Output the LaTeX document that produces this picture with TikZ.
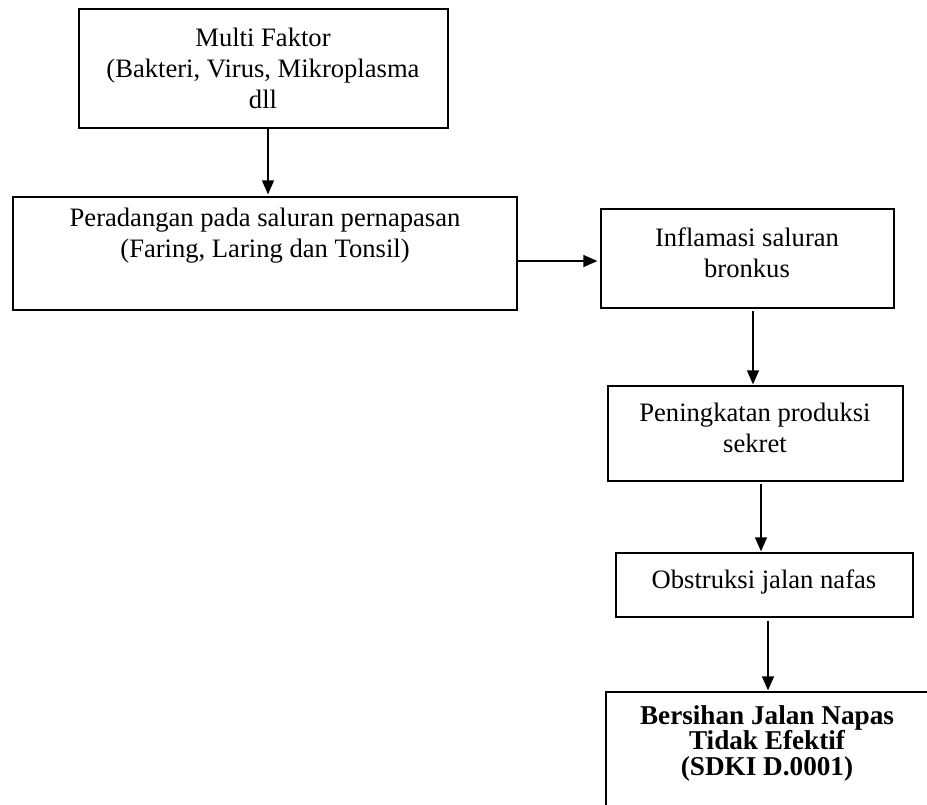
\documentclass[tikz,border=0pt]{standalone}
\usepackage{fontspec}
\setmainfont{Liberation Serif}
\usetikzlibrary{arrows.meta}
\begin{document}
\begin{tikzpicture}[x=1pt,y=-1pt,
  boxnode/.style={draw=black,line width=1.3pt,inner sep=0pt,rectangle},
  txt/.style={align=center,inner sep=0pt,font=\fontsize{26.6}{31}\selectfont},
  boldtxt/.style={align=center,inner sep=0pt,font=\fontsize{27.2}{25.5}\selectfont\bfseries},
  arr/.style={line width=1.3pt,-{Triangle[length=14pt,width=12pt]}}]
\clip (0,0) rectangle (927,804);
\fill[white] (0,0) rectangle (927,804);
% boxes
\node[boxnode,minimum width=369pt,minimum height=119pt] (b1) at (263.5,68.5) {};
\node[boxnode,minimum width=504pt,minimum height=113pt] (b2) at (265,253.5) {};
\node[boxnode,minimum width=293pt,minimum height=99pt] (b3) at (747.5,258.5) {};
\node[boxnode,minimum width=295pt,minimum height=95pt] (b4) at (755.5,433.5) {};
\node[boxnode,minimum width=297pt,minimum height=64pt] (b5) at (764.5,585) {};
\node[boxnode,minimum width=334pt,minimum height=158pt] (b6) at (773,771) {};
% texts
\node[txt] (t1) at (263,68) {Multi Faktor\\(Bakteri, Virus, Mikroplasma\\dll};
\node[txt] (t2) at (265,236) {Peradangan pada saluran pernapasan\\(Faring, Laring dan Tonsil)};
\node[txt] (t3) at (747,253) {Inflamasi saluran\\bronkus};
\node[txt] (t4) at (755,428) {Peningkatan produksi\\sekret};
\node[txt] (t5) at (764,582) {Obstruksi jalan nafas};
\node[boldtxt] (t6) at (767,743) {Bersihan Jalan Napas\\Tidak Efektif\\(SDKI D.0001)};
% connectors
\draw[arr,shorten >=2pt] ([xshift=4.5pt]b1.south) -- ([xshift=4.5pt]b1.south |- b2.north);
\draw[arr,shorten >=3pt] ([yshift=-7.5pt]b2.east) -- ([yshift=-7.5pt]b2.east -| b3.west);
\draw[arr,shorten <=2pt,shorten >=1pt] ([xshift=5.5pt]b3.south) -- ([xshift=5.5pt]b3.south |- b4.north);
\draw[arr,shorten <=2pt,shorten >=1pt] ([xshift=5.5pt]b4.south) -- ([xshift=5.5pt]b4.south |- b5.north);
\draw[arr,shorten <=3pt,shorten >=1pt] ([xshift=3.5pt]b5.south) -- ([xshift=3.5pt]b5.south |- b6.north);
\end{tikzpicture}
\end{document}
